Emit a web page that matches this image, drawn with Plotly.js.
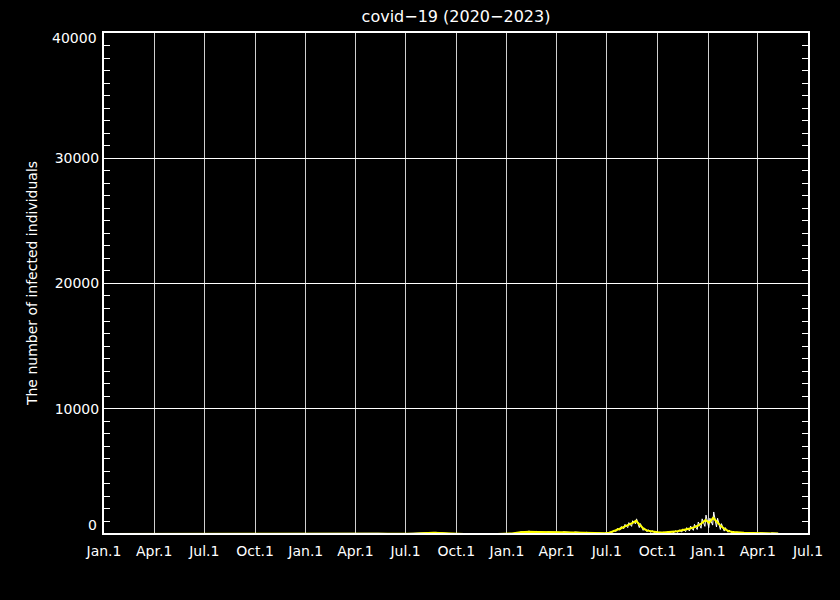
<!DOCTYPE html>
<html>
<head>
<meta charset="utf-8">
<script src="https://cdn.plot.ly/plotly-3.0.1.min.js"></script>
<style>html,body{margin:0;padding:0;background:#000;}#chart{width:840px;height:600px;}</style>
</head>
<body>
<div id="chart"></div>
<script>
// Quarterly tick positions and labels
const xTickVals = ['2020-01-01','2020-04-01','2020-07-01','2020-10-01','2021-01-01','2021-04-01','2021-07-01','2021-10-01','2022-01-01','2022-04-01','2022-07-01','2022-10-01','2023-01-01','2023-04-01','2023-07-01'];
const xTickText = ['Jan.1','Apr.1','Jul.1','Oct.1','Jan.1','Apr.1','Jul.1','Oct.1','Jan.1','Apr.1','Jul.1','Oct.1','Jan.1','Apr.1','Jul.1'];
const yTickVals = [0, 10000, 20000, 30000, 40000];
const yTickText = ['0', '10000', '20000', '30000', '40000'];

// Daily counts (white), read as weekly highs/lows
const dailyDates = ['2020-01-15','2020-04-08','2020-04-13','2020-04-15','2020-05-10','2020-07-20','2020-08-05','2020-08-10','2020-08-12','2020-09-20','2020-12-01','2020-12-28','2021-01-06','2021-01-11','2021-01-13','2021-02-20','2021-04-26','2021-04-28','2021-05-10','2021-05-12','2021-06-20','2021-08-16','2021-08-18','2021-08-23','2021-08-25','2021-09-20','2021-11-01','2021-12-20','2022-01-10','2022-01-24','2022-01-26','2022-02-07','2022-02-09','2022-02-21','2022-02-23','2022-03-14','2022-03-16','2022-04-11','2022-04-13','2022-05-02','2022-05-04','2022-05-23','2022-05-25','2022-06-13','2022-06-15','2022-06-27','2022-06-29',
'2022-07-04','2022-07-06','2022-07-11','2022-07-13','2022-07-18','2022-07-20','2022-07-25','2022-07-27','2022-08-01','2022-08-03','2022-08-08','2022-08-10','2022-08-15','2022-08-17','2022-08-22','2022-08-24','2022-08-29','2022-08-31','2022-09-05','2022-09-07','2022-09-12','2022-09-14','2022-09-19','2022-09-21','2022-09-26','2022-09-28','2022-10-03','2022-10-05','2022-10-10','2022-10-12','2022-10-17','2022-10-19','2022-10-24','2022-10-26','2022-10-31','2022-11-02','2022-11-07','2022-11-09','2022-11-14','2022-11-16','2022-11-21','2022-11-23','2022-11-28','2022-11-30','2022-12-05','2022-12-07','2022-12-12','2022-12-14','2022-12-19','2022-12-21','2022-12-26','2022-12-28','2023-01-02','2023-01-04','2023-01-09','2023-01-11','2023-01-16','2023-01-18','2023-01-23','2023-01-25','2023-01-30','2023-02-01','2023-02-06','2023-02-08','2023-02-13','2023-02-15','2023-02-20','2023-02-22','2023-02-27','2023-03-01','2023-03-13','2023-03-15','2023-04-03','2023-04-05','2023-04-24','2023-04-26','2023-05-08'];
const dailyCounts = [0,5,10,25,3,5,15,20,40,5,10,20,60,30,55,5,20,45,25,50,5,60,110,70,120,20,0,0,20,90,170,120,220,110,200,90,160,100,170,80,150,70,120,40,70,40,90,
50,140,120,280,200,430,300,580,420,760,500,900,600,1050,800,1200,500,820,280,480,170,330,120,250,90,190,60,150,50,140,60,160,80,200,100,250,120,320,150,400,180,500,230,620,280,760,350,950,450,1200,600,1500,500,1250,700,1750,550,1250,350,820,220,500,130,300,90,200,60,140,50,120,40,100,30,90,30,80,40];

// 7-day average (yellow)
const avgDates = ['2020-01-01','2020-03-01','2020-04-10','2020-05-01','2020-06-15','2020-07-15','2020-08-10','2020-09-15','2020-11-01','2020-12-01','2021-01-10','2021-02-15','2021-03-15','2021-04-25','2021-05-15','2021-06-15','2021-07-15','2021-08-20','2021-09-15','2021-10-15','2021-12-15','2022-01-10','2022-01-25','2022-02-10','2022-02-25','2022-03-15','2022-04-10','2022-05-01','2022-05-20','2022-06-10','2022-06-29',
'2022-07-06','2022-07-13','2022-07-20','2022-07-27','2022-08-03','2022-08-10','2022-08-17','2022-08-23','2022-08-30','2022-09-06','2022-09-13','2022-09-20','2022-09-27','2022-10-04','2022-10-11','2022-10-18','2022-10-25','2022-11-01','2022-11-08','2022-11-15','2022-11-22','2022-11-29','2022-12-06','2022-12-13','2022-12-20','2022-12-27','2023-01-03','2023-01-10','2023-01-17','2023-01-24','2023-01-31','2023-02-07','2023-02-14','2023-02-21','2023-02-28','2023-03-07','2023-03-21','2023-04-04','2023-04-18','2023-05-08'];
const avgCounts = [0,0,15,5,0,10,25,5,5,30,40,5,5,30,35,5,20,80,20,0,0,30,120,170,150,120,130,110,90,50,60,
100,200,330,450,600,720,880,1040,700,400,260,200,150,110,100,110,140,180,230,280,350,430,520,650,850,1100,900,1280,950,620,380,220,150,110,90,80,70,60,55,40];

const font = 'DejaVu Sans, sans-serif';
const yMax = 40000;

const traces = [
  {x: dailyDates, y: dailyCounts, type: 'scatter', mode: 'lines',
   line: {color: '#ffffff', width: 1}, hoverinfo: 'skip', showlegend: false},
  {x: avgDates, y: avgCounts, type: 'scatter', mode: 'lines',
   line: {color: '#ffff00', width: 2}, hoverinfo: 'skip', showlegend: false},
  {x: [], y: [], yaxis: 'y2', type: 'scatter', mode: 'lines', showlegend: false}
];

const annotations = [];
[0, 4].forEach(function (i) {
  annotations.push({
    xref: 'paper', x: 0, xanchor: 'right', xshift: -5,
    yref: 'paper', y: yTickVals[i] / yMax, yanchor: 'middle',
    yshift: i === 0 ? 8 : -5,
    text: yTickText[i], showarrow: false,
    font: {family: font, size: 14, color: '#ffffff'}
  });
});

const layout = {
  width: 840, height: 600,
  paper_bgcolor: '#000000', plot_bgcolor: '#000000',
  margin: {l: 104, r: 32, t: 33, b: 67},
  font: {family: font, size: 14, color: '#ffffff'},
  title: {text: 'covid\u221219 (2020\u22122023)', font: {family: font, size: 16, color: '#ffffff'},
          xref: 'paper', x: 0.5, xanchor: 'center', yref: 'container', y: 1 - 16 / 600, yanchor: 'middle'},
  xaxis: {
    type: 'date', range: ['2020-01-01', '2023-07-01'],
    tickmode: 'array', tickvals: xTickVals, ticktext: xTickText,
    showgrid: true, gridcolor: '#d0d0d0', gridwidth: 1,
    showline: true, linecolor: '#ffffff', linewidth: 2, mirror: true,
    ticks: '', zeroline: false, ticklabelstandoff: 4,
    tickfont: {family: font, size: 14, color: '#ffffff'}
  },
  yaxis: {
    range: [70, yMax],
    tickmode: 'array', tickvals: yTickVals.slice(1, 4), ticktext: yTickText.slice(1, 4),
    showgrid: true, gridcolor: '#ffffff', gridwidth: 1,
    showline: true, linecolor: '#ffffff', linewidth: 2, mirror: true,
    ticks: 'inside', ticklen: 6, tickcolor: '#ffffff',
    minor: {dtick: 1000, ticks: 'inside', ticklen: 6, tickcolor: '#ffffff', showgrid: false},
    zeroline: false,
    tickfont: {family: font, size: 14, color: '#ffffff'},
    title: {text: 'The number of infected individuals', font: {family: font, size: 14, color: '#ffffff'}, standoff: 14}
  },
  yaxis2: {
    overlaying: 'y', side: 'right', range: [70, yMax],
    showgrid: false, showticklabels: false, zeroline: false, showline: false,
    tickmode: 'array', tickvals: yTickVals,
    ticks: 'inside', ticklen: 6, tickcolor: '#ffffff',
    minor: {dtick: 1000, ticks: 'inside', ticklen: 6, tickcolor: '#ffffff', showgrid: false}
  },
  annotations: annotations,
  showlegend: false
};

Plotly.newPlot('chart', traces, layout, {staticPlot: true, displayModeBar: false});
</script>
</body>
</html>
